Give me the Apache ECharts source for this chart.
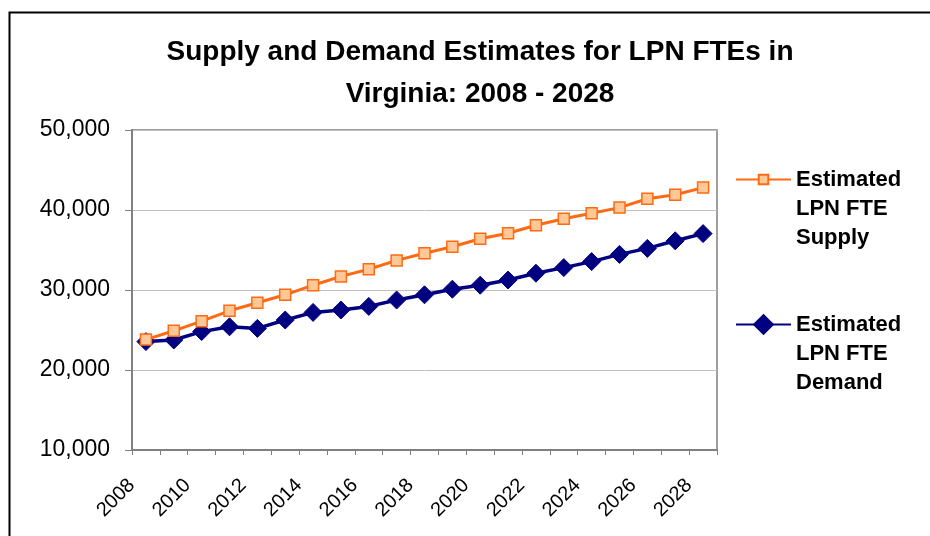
<!DOCTYPE html>
<html>
<head>
<meta charset="utf-8" />
<title>LPN FTE Supply and Demand</title>
<script src="https://cdn.jsdelivr.net/npm/echarts@6/dist/echarts.min.js"></script>
<style>
  html, body { margin: 0; padding: 0; background: #fff; }
  #chart { width: 930px; height: 536px; }
</style>
</head>
<body>
<div id="chart"></div>
<script>
var years = ['2008', '2009', '2010', '2011', '2012', '2013', '2014', '2015', '2016', '2017', '2018',
             '2019', '2020', '2021', '2022', '2023', '2024', '2025', '2026', '2027', '2028'];
var supply = [23800, 24900, 26100, 27400, 28400, 29400, 30600, 31700, 32600, 33700, 34600,
              35400, 36400, 37100, 38100, 38900, 39600, 40300, 41400, 41900, 42800];
var demand = [23550, 23750, 24800, 25400, 25200, 26250, 27200, 27500, 27950, 28750, 29400,
              30100, 30600, 31250, 32100, 32800, 33550, 34450, 35200, 36150, 37050];
var yTicks = [10000, 20000, 30000, 40000, 50000];

var font = '"Liberation Sans", Arial, sans-serif';
var chart = echarts.init(document.getElementById('chart'), null, {renderer: 'canvas'});

// two empty lines first so the icon sits beside "Estimated"
function legendName(name) {
    return '\n\n' + name.replace('Estimated LPN FTE ', 'Estimated\nLPN FTE\n');
}
function makeLegend(name, top, h) {
    return {
        orient: 'vertical',
        left: 735,
        top: top,
        padding: 0,
        itemWidth: 55,
        itemHeight: h,
        textStyle: { fontFamily: font, fontSize: 22, fontWeight: 'bold', color: '#000', lineHeight: 29 },
        formatter: legendName,
        data: [name]
    };
}

chart.setOption({
    animation: false,
    textStyle: { fontFamily: font },
    title: {
        text: 'Supply and Demand Estimates for LPN FTEs in\nVirginia: 2008 - 2028',
        left: 475,
        top: 26,
        textAlign: 'center',
        textStyle: { fontFamily: font, fontSize: 28, fontWeight: 'bold', color: '#000', lineHeight: 42 }
    },
    graphic: [{
        type: 'rect',
        left: 7,
        top: 10,
        shape: { width: 1000, height: 1000 },
        style: { fill: 'none', stroke: '#000', lineWidth: 2 },
        silent: true
    }],
    legend: [
        makeLegend('Estimated LPN FTE Supply', 107, 12),
        makeLegend('Estimated LPN FTE Demand', 252, 27)
    ],
    grid: {
        left: 132, right: 213, top: 130, bottom: 86,
        show: true, borderColor: '#808080', borderWidth: 1.5, containLabel: false
    },
    xAxis: {
        type: 'category',
        data: years,
        boundaryGap: true,
        axisLine: { lineStyle: { color: '#808080', width: 2 } },
        axisTick: { show: true, length: 5, alignWithLabel: false, interval: 0, lineStyle: { color: '#808080' } },
        axisLabel: {
            interval: 1, rotate: 45, margin: 18, padding: [0, 20, 0, 0],
            fontFamily: font, fontSize: 20, color: '#000'
        }
    },
    yAxis: {
        type: 'value',
        min: yTicks[0],
        max: yTicks[yTicks.length - 1],
        interval: 10000,
        axisLine: { show: true, lineStyle: { color: '#808080', width: 2 } },
        axisTick: { show: true, length: 7, lineStyle: { color: '#808080' } },
        splitLine: { lineStyle: { color: '#c0c0c0', width: 1 } },
        axisLabel: {
            margin: 22, fontFamily: font, fontSize: 23, color: '#000',
            formatter: function (v) { return v.toLocaleString('en-US'); }
        }
    },
    series: [{
        name: 'Estimated LPN FTE Supply',
        type: 'line',
        data: supply,
        symbol: 'rect',
        symbolSize: 11,
        lineStyle: { color: '#ff6a13', width: 3 },
        itemStyle: { color: '#ffc896', borderColor: '#ff6a13', borderWidth: 1.5 },
        z: 3
    }, {
        name: 'Estimated LPN FTE Demand',
        type: 'line',
        data: demand,
        symbol: 'diamond',
        symbolSize: 18,
        lineStyle: { color: '#000080', width: 3.5 },
        itemStyle: { color: '#000080', borderColor: '#000080' },
        z: 2
    }]
});
</script>
</body>
</html>
